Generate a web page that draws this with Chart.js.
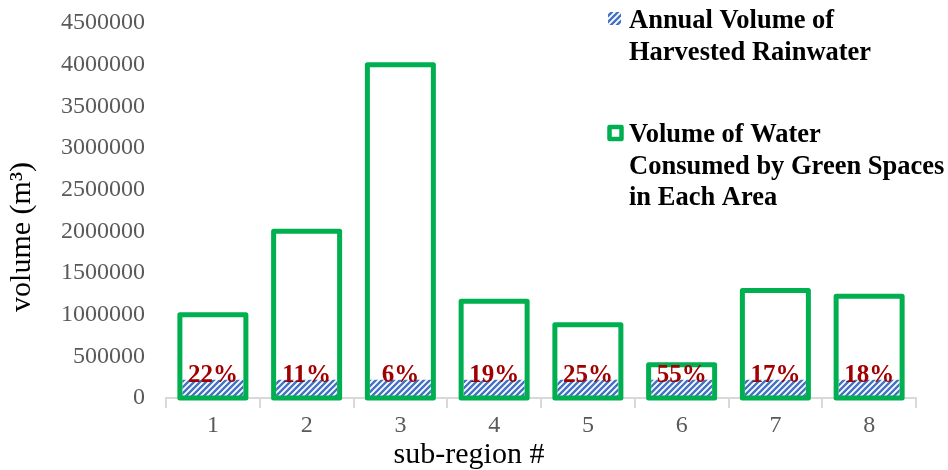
<!DOCTYPE html>
<html>
<head>
<meta charset="utf-8">
<script src="https://cdn.jsdelivr.net/npm/chart.js@4.4.1/dist/chart.umd.min.js"></script>
<style>
  html, body { margin: 0; padding: 0; background: #ffffff; }
  #wrap { width: 948px; height: 470px; position: relative; }
</style>
</head>
<body>
<div id="wrap"><canvas id="chart" width="948" height="470"></canvas></div>
<script>
// Sub-regions along the category axis
const subRegions = ['1', '2', '3', '4', '5', '6', '7', '8'];
// Annual volume of harvested rainwater per sub-region (m3)
const harvestedRainwater = [220000, 220000, 220000, 220000, 220000, 220000, 220000, 220000];
// Volume of water consumed by green spaces per sub-region (m3)
const greenSpaceConsumption = [1000000, 2000000, 4000000, 1160000, 880000, 400000, 1290000, 1220000];
// Value axis range
const yMin = 0;
const yMax = 4500000;
const yStep = 500000;

const legendLabels = [
  ['Annual Volume of', 'Harvested Rainwater'],
  ['Volume of Water', 'Consumed by Green Spaces', 'in Each Area']
];
const yTitle = 'volume (m\u00B3)';
const xTitle = 'sub-region #';

const SERIF = '"Liberation Serif", "Times New Roman", serif';
const GREEN = '#00B050';
const BLUE = '#4472C4';
const DARK_RED = '#A00000';
const OUTLINE_WIDTH = 5;

// Wide upward-diagonal hatch used for the rainwater bars
function makeHatch() {
  const size = 6;
  const c = document.createElement('canvas');
  c.width = size; c.height = size;
  const g = c.getContext('2d');
  g.fillStyle = '#ffffff';
  g.fillRect(0, 0, size, size);
  g.strokeStyle = BLUE;
  g.lineWidth = 2.4;
  g.beginPath();
  g.moveTo(-size, size * 2); g.lineTo(size * 2, -size);
  g.moveTo(-size * 1.5, size * 1.5); g.lineTo(size * 1.5, -size * 1.5);
  g.moveTo(-size * 0.5, size * 2.5); g.lineTo(size * 2.5, -size * 0.5);
  g.stroke();
  return g.createPattern(c, 'repeat');
}
const hatch = makeHatch();

// Consumption bars are drawn as outlines centred on the bar edges, round-jointed
const outlineBars = {
  id: 'outlineBars',
  afterDatasetsDraw(chart) {
    const ctx = chart.ctx;
    const meta = chart.getDatasetMeta(0);
    ctx.save();
    ctx.strokeStyle = GREEN;
    ctx.lineWidth = OUTLINE_WIDTH;
    ctx.lineJoin = 'round';
    meta.data.forEach((bar) => {
      const { x, y, base, width } = bar.getProps(['x', 'y', 'base', 'width'], true);
      ctx.strokeRect(x - width / 2, y, width, base - y);
    });
    ctx.restore();
  }
};

// Percentage of consumption covered by harvested rainwater, above each hatched bar
const shareLabels = {
  id: 'shareLabels',
  afterDatasetsDraw(chart) {
    const ctx = chart.ctx;
    const meta = chart.getDatasetMeta(1);
    ctx.save();
    ctx.font = 'bold 25px ' + SERIF;
    ctx.fillStyle = DARK_RED;
    ctx.textAlign = 'center';
    ctx.textBaseline = 'alphabetic';
    meta.data.forEach((bar, i) => {
      const pct = Math.round(harvestedRainwater[i] / greenSpaceConsumption[i] * 100);
      ctx.fillText(pct + '%', bar.x, bar.y + 2);
    });
    ctx.restore();
  }
};

// Axis titles and the two-entry legend at the top right
const decorations = {
  id: 'decorations',
  afterDraw(chart) {
    const ctx = chart.ctx;
    ctx.save();

    // value axis title
    ctx.save();
    ctx.translate(30, 237);
    ctx.rotate(-Math.PI / 2);
    ctx.font = '30px ' + SERIF;
    ctx.fillStyle = '#000000';
    ctx.textAlign = 'center';
    ctx.textBaseline = 'alphabetic';
    ctx.fillText(yTitle, 0, 0);
    ctx.restore();

    // category axis title
    ctx.font = '30px ' + SERIF;
    ctx.fillStyle = '#000000';
    ctx.textAlign = 'center';
    ctx.textBaseline = 'alphabetic';
    ctx.fillText(xTitle, 469, 463);

    // legend entry 1: hatched swatch
    ctx.fillStyle = hatch;
    ctx.fillRect(608, 12, 13, 13);

    // legend entry 2: outlined green swatch
    ctx.strokeStyle = GREEN;
    ctx.lineWidth = 4.5;
    ctx.lineJoin = 'round';
    ctx.strokeRect(609.5, 127, 12, 12);

    ctx.font = 'bold 26.5px ' + SERIF;
    ctx.fillStyle = '#000000';
    ctx.textAlign = 'left';
    const lineGap = 31.5;
    legendLabels[0].forEach((t, k) => ctx.fillText(t, 629, 28 + k * lineGap));
    legendLabels[1].forEach((t, k) => ctx.fillText(t, 629, 142 + k * lineGap));

    ctx.restore();
  }
};

new Chart(document.getElementById('chart'), {
  type: 'bar',
  data: {
    labels: subRegions,
    datasets: [
      {
        label: 'Volume of Water Consumed by Green Spaces in Each Area',
        data: greenSpaceConsumption,
        backgroundColor: 'rgba(0,0,0,0)',
        borderWidth: 0,
        inflateAmount: 0,
        grouped: false,
        categoryPercentage: 1,
        barPercentage: 0.704
      },
      {
        label: 'Annual Volume of Harvested Rainwater',
        data: harvestedRainwater,
        backgroundColor: hatch,
        borderWidth: 0,
        inflateAmount: 0,
        grouped: false,
        categoryPercentage: 1,
        barPercentage: 0.65
      }
    ]
  },
  options: {
    responsive: false,
    animation: false,
    devicePixelRatio: 1,
    layout: { padding: { left: 0, right: 32, top: 0, bottom: 0 } },
    plugins: {
      legend: { display: false },
      tooltip: { enabled: false }
    },
    scales: {
      x: {
        offset: true,
        grid: {
          display: true,
          offset: true,
          drawOnChartArea: false,
          drawTicks: true,
          tickLength: 10,
          color: '#D9D9D9',
          lineWidth: 2
        },
        border: { display: true, color: '#D9D9D9', width: 2 },
        ticks: {
          color: '#595959',
          font: { family: SERIF, size: 24 },
          padding: 3,
          maxRotation: 0
        },
        afterFit(scale) { scale.height = 72; }
      },
      y: {
        min: yMin,
        max: yMax,
        grid: { display: false, drawTicks: false },
        border: { display: false },
        ticks: {
          stepSize: yStep,
          color: '#595959',
          font: { family: SERIF, size: 24 },
          padding: 21,
          callback: (v) => String(v)
        },
        afterFit(scale) {
          scale.width = 166;
          scale.paddingTop = 23;
          scale.paddingBottom = 0;
        }
      }
    }
  },
  plugins: [outlineBars, shareLabels, decorations]
});
</script>
</body>
</html>
